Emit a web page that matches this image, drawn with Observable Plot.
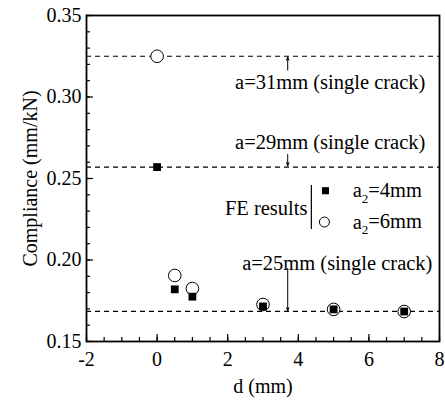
<!DOCTYPE html>
<html><head><meta charset="utf-8">
<script src="https://cdn.jsdelivr.net/npm/d3@7"></script>
<script src="https://cdn.jsdelivr.net/npm/@observablehq/plot@0.6"></script>
<style>body{margin:0;background:#fff;font-family:'Liberation Serif'}</style>
</head><body><div id="chart"></div>
<script>
const dA4 = [0, 0.5, 1, 3, 5, 7];
const cA4 = [0.257, 0.182, 0.1775, 0.1715, 0.1697, 0.1684];
const dA6 = [0, 0.5, 1, 3, 5, 7];
const cA6 = [0.325, 0.1905, 0.1825, 0.1727, 0.1697, 0.1684];
const refLevels = [0.325, 0.257, 0.1685];
const refLabels = ["a=31mm (single crack)", "a=29mm (single crack)", "a=25mm (single crack)"];
const refLabelX = [7.6, 7.6, 7.8];
const refLabelY = [0.309, 0.272, 0.198];
const arrowX = [3.7, 3.7, 3.7];
const arrowFrom = [0.3165, 0.2648, 0.1948];
const arrowTo = [0.3245, 0.2578, 0.1688];
const xTicks = [-2, 0, 2, 4, 6, 8];
const yTicks = [0.15, 0.20, 0.25, 0.30, 0.35];
const xMinor = d3.range(-2, 8.01, 0.5);
const yMinor = d3.range(0.15, 0.3501, 0.01);
const legendText = "FE results";
const legendLabels = ["a2=4mm", "a2=6mm"];

const pts4 = dA4.map((d, i) => ({d, c: cA4[i]}));
const pts6 = dA6.map((d, i) => ({d, c: cA6[i]}));
const W = 445, H = 407, mL = 86, mR = 6, mT = 15, mB = 66;
const pw = W - mL - mR, ph = H - mT - mB;
const font = "Liberation Serif";

const chart = Plot.plot({
  width: W, height: H,
  marginLeft: mL, marginRight: mR, marginTop: mT, marginBottom: mB,
  style: {fontFamily: font, fontSize: "20px", color: "#000", background: "#fff", overflow: "visible"},
  x: {domain: [-2, 8]},
  y: {domain: [0.15, 0.35]},
  marks: [
    Plot.ruleY(refLevels, {stroke: "#000", strokeWidth: 1.2, strokeDasharray: "5,4"}),
    Plot.tickY(yMinor, {stroke: "#000", strokeWidth: 1.2, insetRight: pw - 4}),
    Plot.tickY(yTicks, {stroke: "#000", strokeWidth: 1.2, insetRight: pw - 7}),
    Plot.tickX(xMinor, {stroke: "#000", strokeWidth: 1.2, insetTop: ph - 4}),
    Plot.tickX(xTicks, {stroke: "#000", strokeWidth: 1.2, insetTop: ph - 7}),
    Plot.axisY(yTicks, {tickSize: 0, tickPadding: 5, tickFormat: d3.format(".2f"), fontSize: 20, fontFamily: font,
      label: "Compliance (mm/kN)", labelAnchor: "center", labelOffset: 64, labelArrow: "none"}),
    Plot.axisX(xTicks, {tickSize: 0, tickPadding: 10, fontSize: 20, fontFamily: font, tickFormat: d => String(d),
      label: "d (mm)", labelAnchor: "center", labelOffset: 51, labelArrow: "none"}),
    Plot.dot(pts6, {x: "d", y: "c", r: 6.3, stroke: "#000", strokeWidth: 1, fill: "#fff"}),
    Plot.dot(pts4, {x: "d", y: "c", r: 4.4, symbol: "square", fill: "#000"}),
    Plot.text(refLabels, {x: (d, i) => refLabelX[i], y: (d, i) => refLabelY[i], text: d => d,
      textAnchor: "end", fontSize: 20.5, fontFamily: font}),
    Plot.arrow(arrowX, {x1: d => d, x2: d => d, y1: (d, i) => arrowFrom[i], y2: (d, i) => arrowTo[i],
      stroke: "#000", strokeWidth: 1, headLength: 5, headAngle: 40}),
    Plot.text([legendText], {x: 4.26, y: 0.2316, text: d => d, textAnchor: "end", fontSize: 20.5, fontFamily: font}),
    Plot.ruleX([4.37], {y1: 0.2457, y2: 0.2187, stroke: "#000", strokeWidth: 1.2}),
    Plot.dot([0], {x: 4.77, y: 0.2425, r: 4, symbol: "square", fill: "#000"}),
    Plot.dot([0], {x: 4.74, y: 0.2233, r: 5, stroke: "#000", strokeWidth: 1, fill: "#fff"}),
    Plot.text(legendLabels, {x: 5.54, y: (d, i) => [0.2425, 0.2233][i], text: d => d,
      textAnchor: "start", fontSize: 20.5, fontFamily: font, className: "sublab"}),
    Plot.frame({stroke: "#000", strokeWidth: 1.8})
  ]
});
d3.select(chart).attr("font-family", font);
d3.select(chart).selectAll("g, text").attr("font-family", font).style("font-family", font);
d3.select(chart).selectAll(".sublab text").each(function() {
  const t = d3.select(this);
  const s = t.text();
  t.text(null);
  t.append("tspan").text(s[0]);
  t.append("tspan").attr("font-size", 13).attr("dy", "0.45em").text(s[1]);
  t.append("tspan").attr("dy", "-0.3em").text(s.slice(2));
});
document.getElementById("chart").appendChild(chart);
</script></body></html>
